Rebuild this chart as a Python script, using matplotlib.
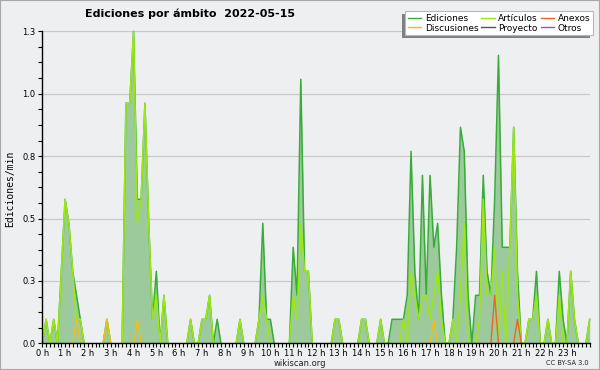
import numpy as np
import matplotlib
matplotlib.use("Agg")
import matplotlib.pyplot as plt
from matplotlib.patches import Rectangle
from matplotlib.lines import Line2D
from matplotlib.ticker import MultipleLocator
from matplotlib.transforms import ScaledTranslation

# === Datos (ediciones/min, tramos de 10 min) ===
tiempo_h = np.arange(145) / 6

ediciones = [
    0, 0.1, 0, 0.1, 0, 0.3, 0.6, 0.5, 0.3, 0.2, 0.1, 0,
    0, 0, 0, 0, 0, 0.1, 0, 0, 0, 0, 1.0, 1.0,
    1.3, 0.6, 0.6, 1.0, 0.5, 0.1, 0.3, 0, 0.2, 0, 0, 0,
    0, 0, 0, 0.1, 0, 0, 0.1, 0.1, 0.2, 0, 0.1, 0,
    0, 0, 0, 0, 0.1, 0, 0, 0, 0, 0.1, 0.5, 0.1,
    0.1, 0, 0, 0, 0, 0, 0.4, 0.2, 1.1, 0.3, 0.3, 0,
    0, 0, 0, 0, 0, 0.1, 0.1, 0, 0, 0, 0, 0,
    0.1, 0.1, 0, 0, 0, 0.1, 0, 0, 0.1, 0.1, 0.1, 0.1,
    0.2, 0.8, 0.3, 0.1, 0.7, 0.2, 0.7, 0.4, 0.5, 0.2, 0, 0,
    0.1, 0.4, 0.9, 0.8, 0.2, 0, 0.2, 0.2, 0.7, 0.3, 0.2, 0.6,
    1.2, 0.4, 0.4, 0.4, 0.9, 0.3, 0, 0, 0.1, 0.1, 0.3, 0,
    0, 0.1, 0, 0, 0.3, 0.1, 0, 0.3, 0.1, 0, 0, 0,
    0.1,
]

articulos = [
    0, 0.1, 0, 0.1, 0, 0.3, 0.6, 0.5, 0.3, 0.1, 0.1, 0,
    0, 0, 0, 0, 0, 0.1, 0, 0, 0, 0, 1.0, 1.0,
    1.3, 0.5, 0.6, 1.0, 0.5, 0.1, 0.2, 0, 0.2, 0, 0, 0,
    0, 0, 0, 0.1, 0, 0, 0.1, 0.1, 0.2, 0, 0, 0,
    0, 0, 0, 0, 0.1, 0, 0, 0, 0, 0.1, 0.2, 0.1,
    0, 0, 0, 0, 0, 0, 0.2, 0.1, 0.5, 0.3, 0.3, 0,
    0, 0, 0, 0, 0, 0.1, 0.1, 0, 0, 0, 0, 0,
    0.1, 0.1, 0, 0, 0, 0.1, 0, 0, 0, 0, 0, 0.1,
    0, 0.3, 0.2, 0.1, 0.2, 0.2, 0.1, 0.2, 0.3, 0.1, 0, 0,
    0.1, 0, 0.2, 0.5, 0, 0, 0, 0.1, 0.6, 0.2, 0.2, 0.4,
    0, 0.3, 0, 0.4, 0.9, 0.2, 0, 0, 0.1, 0.1, 0.2, 0,
    0, 0.1, 0, 0, 0.2, 0, 0, 0.3, 0.1, 0, 0, 0,
    0.1,
]

# series casi vacías: (índice del tramo, valor)
discusiones_idx = [9, 17, 25, 103]
discusiones_val = [0.1, 0.1, 0.1, 0.1]
anexos_idx = [119, 125]
anexos_val = [0.2, 0.1]

titulo = "Ediciones por ámbito  2022-05-15"

# === Colores ===
bg = "#eeeff1"
c_ed = "#36ad36"
c_fill = "#9dca9d"
c_art = "#9be812"
c_disc = "#f2bd1c"
c_anex = "#f06424"
c_proy = "#555555"
c_otros = "#9a4ae6"


def serie(idx, val):
    s = np.zeros(len(tiempo_h))
    s[idx] = val
    return s


def ocultar_ceros(v):
    # no dibujar la línea pegada al eje donde no hay nada
    v = np.asarray(v, dtype=float)
    izq = np.r_[0, v[:-1]]
    der = np.r_[v[1:], 0]
    return np.where((v == 0) & (izq == 0) & (der == 0), np.nan, v)


discusiones = serie(discusiones_idx, discusiones_val)
anexos = serie(anexos_idx, anexos_val)

# === Figura ===
fig = plt.figure(figsize=(6, 3.7), dpi=100, facecolor=bg)
ax = fig.add_axes([42.3 / 600, 26.7 / 370, 547.4 / 600, 312 / 370])
ax.set_facecolor(bg)

ax.fill_between(tiempo_h, ediciones, 0, color=c_fill, lw=0, zorder=2)
ax.plot(tiempo_h, ocultar_ceros(ediciones), color=c_ed, lw=1.1, zorder=3, clip_on=False)
ax.plot(tiempo_h, ocultar_ceros(articulos), color=c_art, lw=1.1, zorder=4, clip_on=False)
ax.plot(tiempo_h, ocultar_ceros(discusiones), color=c_disc, lw=1.0, zorder=5)
ax.plot(tiempo_h, ocultar_ceros(anexos), color=c_anex, lw=1.0, zorder=5)

ax.set_xlim(0, 24)
ax.set_ylim(0, 1.3)

# eje Y: 5 tramos iguales hasta el máximo
yt = np.linspace(0, 1.3, 6)
ax.set_yticks(yt)
ax.set_yticklabels([f"{v:.1f}" for v in yt], fontsize=6)
ax.yaxis.set_minor_locator(MultipleLocator(1.3 / 20))
ax.grid(axis="y", color="#c8c8c8", lw=0.9, zorder=1)
ax.set_axisbelow(True)

# eje X: horas
ax.set_xticks(range(24))
ax.set_xticklabels([f"{h} h" for h in range(24)], fontsize=6)
ax.xaxis.set_minor_locator(MultipleLocator(1 / 6))
desplaza = ScaledTranslation(3 / 100, 0, fig.dpi_scale_trans)
for lab in ax.get_xticklabels():
    lab.set_transform(lab.get_transform() + desplaza)

ax.tick_params(which="both", direction="out", length=3, width=0.8, color="black")
ax.tick_params(axis="x", which="both", pad=0.8)
ax.tick_params(axis="y", which="both", pad=2)

for s in ["top", "right"]:
    ax.spines[s].set_visible(False)
for s in ["left", "bottom"]:
    ax.spines[s].set_linewidth(1.0)
    ax.spines[s].set_zorder(6)

# === Textos ===
fig.text(85 / 600, 1 - 14 / 370, titulo, fontsize=8, fontweight="bold", ha="left", va="center")
fig.text(10 / 600, 1 - 189 / 370, "Ediciones/min", rotation=90, fontsize=7,
         family="DejaVu Sans Mono", ha="center", va="center")
fig.text(0.5, 1 - 363 / 370, "wikiscan.org", fontsize=6, ha="center", va="center", color="#222222")
fig.text(589 / 600, 1 - 363 / 370, "CC BY-SA 3.0", fontsize=4.8, ha="right", va="center", color="#222222")

# === Leyenda ===
colores = [c_ed, c_disc, c_art, c_proy, c_anex, c_otros]
nombres = ["Ediciones", "Discusiones", "Artículos", "Proyecto", "Anexos", "Otros"]
handles = [Line2D([0], [0], color=c, lw=1) for c in colores]
leg = fig.legend(handles, nombres, ncol=3, loc="upper right",
                 bbox_to_anchor=(593 / 600, 1 - 11 / 370), borderaxespad=0,
                 fontsize=6.5, frameon=True, fancybox=False, framealpha=1,
                 facecolor="white", edgecolor="#b8b8b8", handlelength=1.5,
                 handletextpad=0.4, columnspacing=0.3, labelspacing=0.1,
                 borderpad=0.3)
leg.get_frame().set_linewidth(0.8)
leg.set_zorder(6)

fig.canvas.draw()
bb = leg.get_window_extent().transformed(fig.transFigure.inverted())
dx, dy = 3 / 600, 3 / 370
fig.patches.append(Rectangle((bb.x0 - dx, bb.y0 - dy), bb.width, bb.height,
                             transform=fig.transFigure, facecolor="#808080",
                             edgecolor="none", zorder=5))

# borde exterior
fig.patches.append(Rectangle((0, 0), 1, 1, transform=fig.transFigure, fill=False,
                             edgecolor="#a8a8a8", lw=1.5, zorder=10))

fig.savefig("out.png", dpi=100, facecolor=bg)
